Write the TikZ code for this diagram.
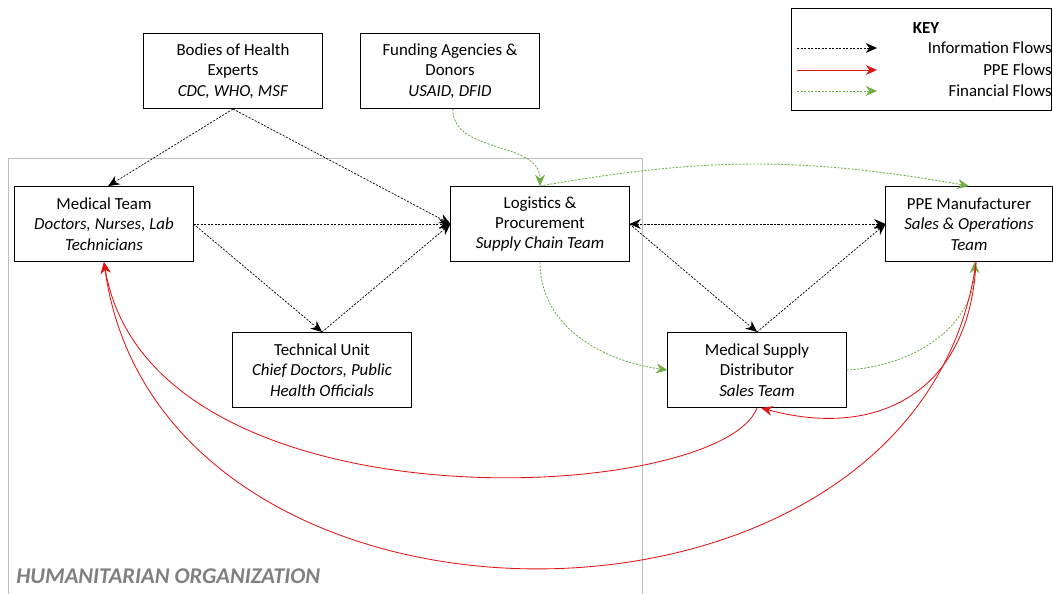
\documentclass[tikz,border=0pt]{standalone}
\usepackage{fontspec}
\setmainfont{Carlito}
\usepackage{xcolor}
\usepackage{tikz}
\usetikzlibrary{arrows.meta,positioning}

\definecolor{finGreen}{RGB}{112,173,71}
\definecolor{ppeRed}{RGB}{225,20,20}
\definecolor{orgGray}{RGB}{190,190,190}
\definecolor{orgText}{RGB}{128,128,128}

\begin{document}
\begin{tikzpicture}[
    x=0.025cm, y=0.025cm,
    box/.style={rectangle, draw, line width=0.7pt, minimum width=4.45cm, minimum height=1.875cm, inner sep=2pt, align=center, font=\fontsize{12}{14.5}\selectfont},
    info/.style={-{Stealth[length=8pt,width=7pt]}, line width=0.5pt, dash pattern=on 1.5pt off 1pt},
    ppe/.style={-{Stealth[length=8pt,width=7pt]}, ppeRed, line width=0.6pt},
    fin/.style={-{Stealth[length=8pt,width=7pt]}, finGreen, line width=0.6pt, dash pattern=on 1.5pt off 1pt},
    keytext/.style={anchor=east, inner sep=0pt, font=\fontsize{12}{14.5}\selectfont}
]
\useasboundingbox (0,0) rectangle (1053,-593);

\draw[orgGray, line width=0.7pt] (8,-600) |- (642,-158) -- (642,-600);
\node[anchor=west, inner sep=0pt, text=orgText, font=\fontsize{16}{19}\selectfont\bfseries\itshape] (orgname) at (16,-576) {HUMANITARIAN ORGANIZATION};

\node[box] (bodies) at (233,-71) {Bodies of Health\\Experts\\\textit{CDC, WHO, MSF}};
\node[box] (funding) at (450,-71) {Funding Agencies \&\\Donors\\\textit{USAID, DFID}};
\node[box] (medical) at (104,-224) {Medical Team\\\textit{Doctors, Nurses, Lab}\\\textit{Technicians}};
\node[box] (logistics) at (540,-224) {Logistics \&\\Procurement\\\textit{Supply Chain Team}};
\node[box, minimum width=4.15cm] (manufacturer) at (969,-224) {PPE Manufacturer\\\textit{Sales \& Operations}\\\textit{Team}};
\node[box] (technical) at (322,-370) {Technical Unit\\\textit{Chief Doctors, Public}\\\textit{Health Officials}};
\node[box] (distributor) at (757,-370) {Medical Supply\\Distributor\\\textit{Sales Team}};

\node[box, minimum width=6.5cm, minimum height=2.525cm] (key) at (921.5,-59.5) {};
\node[inner sep=0pt, font=\fontsize{12}{14.5}\selectfont\bfseries] (keytitle) at (926,-28) {KEY};
\node[keytext] (keyinfo) at (1052,-48) {Information Flows};
\node[keytext] (keyppe) at (1052,-70) {PPE Flows};
\node[keytext] (keyfin) at (1052,-91) {Financial Flows};
\coordinate (infoA) at (797,-48);
\coordinate (infoB) at (877,-48);
\coordinate (ppeA) at (797,-70);
\coordinate (ppeB) at (877,-70);
\coordinate (finA) at (797,-91);
\coordinate (finB) at (877,-91);
\draw[info] (infoA) -- (infoB);
\draw[ppe] (ppeA) -- (ppeB);
\draw[fin] (finA) -- (finB);

\draw[info] (bodies.south) -- ([xshift=3pt]medical.north);
\draw[info] (bodies.south) -- (logistics.west);
\draw[info] (medical.east) -- (logistics.west);
\draw[info] (medical.east) -- (technical.north);
\draw[info] (technical.north) -- (logistics.west);
\draw[info, {Stealth[length=8pt,width=7pt]}-{Stealth[length=8pt,width=7pt]}] (logistics.east) -- (manufacturer.west);
\draw[info] (logistics.east) -- (distributor.north);
\draw[info] (distributor.north) -- (manufacturer.west);

\draw[fin] ([xshift=2pt]funding.south) to[out=-90, in=90] (logistics.north);
\draw[fin] (logistics.north) to[out=10, in=170] (manufacturer.north);
\draw[fin] (logistics.south) to[out=-90, in=172] (distributor.west);
\draw[fin] (distributor.east) to[out=3, in=-90] ([xshift=4pt]manufacturer.south);

\draw[ppe] ([xshift=5pt]manufacturer.south) .. controls (970,-390) and (880,-440) .. ([xshift=3pt]distributor.south);
\draw[ppe] (distributor.south) .. controls (720,-505) and (150,-535) .. (medical.south);
\draw[ppe] ([xshift=5pt]manufacturer.south) .. controls (920,-670) and (160,-670) .. (medical.south);
\end{tikzpicture}
\end{document}
